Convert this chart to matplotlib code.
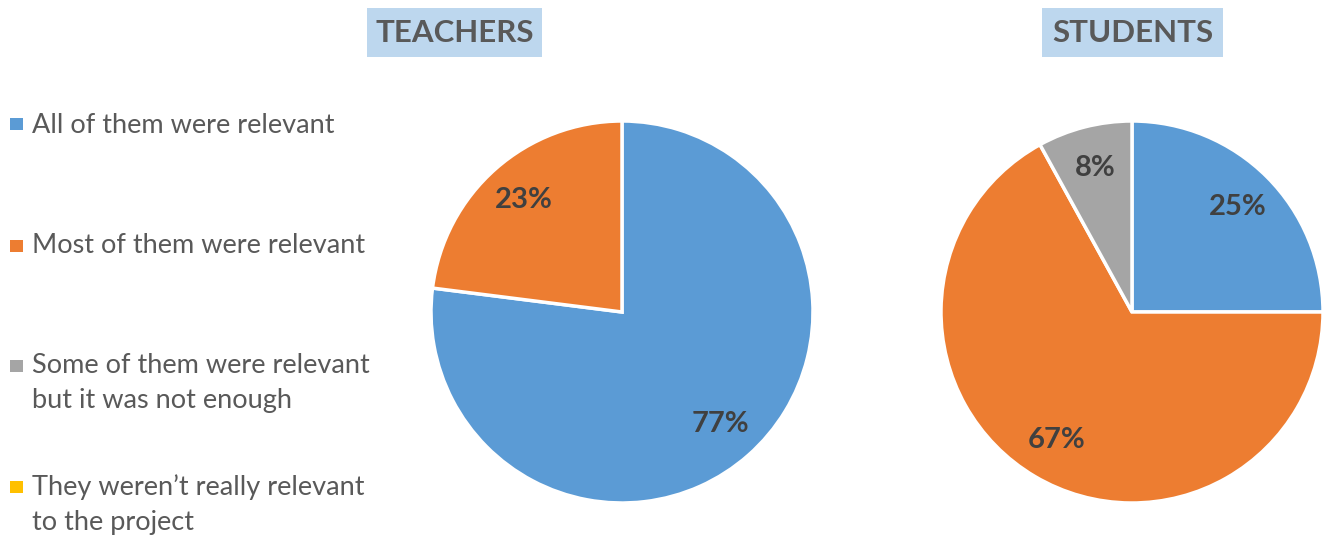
import matplotlib
matplotlib.use("Agg")
import matplotlib.pyplot as plt
from matplotlib.patches import Rectangle

# data
categories = ["All of them were relevant",
              "Most of them were relevant",
              "Some of them were relevant\nbut it was not enough",
              "They weren\u2019t really relevant\nto the project"]
teachers = [77, 23, 0, 0]
students = [25, 67, 8, 0]
colors = ["#5B9BD5", "#ED7D31", "#A5A5A5", "#FFC000"]

plt.rcParams['font.family'] = ['Lato', 'DejaVu Sans']

W, H = 1325, 537
fig = plt.figure(figsize=(W / 100, H / 100), dpi=100)

def fx(x):
    return x / W

def fy(y):
    return 1 - y / H

def draw_pie(cx, cy, r, vals, title, box):
    ax = fig.add_axes([fx(cx - r), fy(cy + r), 2 * r / W, 2 * r / H])
    v = [a for a in vals if a > 0]
    c = [colors[i] for i, a in enumerate(vals) if a > 0]
    wedges, texts, autotexts = ax.pie(
        v, colors=c, startangle=90, counterclock=False,
        autopct=lambda p: f"{p:.0f}%", pctdistance=0.78,
        wedgeprops=dict(edgecolor="white", linewidth=2.5))
    for t in autotexts:
        t.set_fontsize(21)
        t.set_fontweight("bold")
        t.set_color("#404040")
    ax.set_xlim(-1.0, 1.0)
    ax.set_ylim(-1.0, 1.0)
    ax.set_aspect("equal")
    ax.axis("off")
    # title box
    x0, x1, y0, y1 = box
    fig.patches.append(Rectangle((fx(x0), fy(y1)), (x1 - x0) / W, (y1 - y0) / H,
                                 transform=fig.transFigure, facecolor="#BDD7EE",
                                 edgecolor="none", zorder=0))
    fig.text(fx((x0 + x1) / 2), fy((y0 + y1) / 2 + 1), title, ha="center", va="center",
             fontsize=22.5, fontweight="bold", color="#595959")

draw_pie(622, 312, 191, teachers, "TEACHERS", (367, 542, 8, 57))
draw_pie(1132, 312, 191, students, "STUDENTS", (1042, 1223, 8, 57))

# legend (manual layout)
squares_y = [124, 246, 366, 487]
baselines = [133, 253, 373, 495]
for i, lab in enumerate(categories):
    s = 12
    fig.patches.append(Rectangle((fx(10.5), fy(squares_y[i] + s / 2)), s / W, s / H,
                                 transform=fig.transFigure, facecolor=colors[i],
                                 edgecolor="none"))
    for k, line in enumerate(lab.split("\n")):
        fig.text(fx(32), fy(baselines[i] + 35 * k), line, ha="left", va="baseline",
                 fontsize=19.5, color="#595959")

fig.savefig("out.png", dpi=100, facecolor="white")
